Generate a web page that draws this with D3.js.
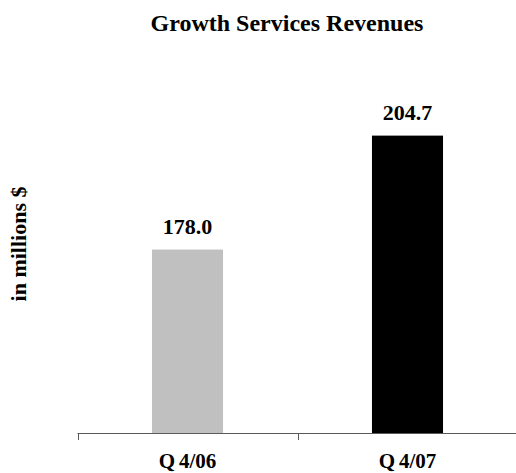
<!DOCTYPE html>
<html>
<head>
<meta charset="utf-8">
<script src="https://cdn.jsdelivr.net/npm/d3@7/dist/d3.min.js"></script>
<style>
  html, body { margin: 0; padding: 0; background: #fff; }
  svg { display: block; }
  text { font-family: "Liberation Serif", "Times New Roman", serif; font-weight: bold; fill: #000; }
</style>
</head>
<body>
<svg id="chart" width="516" height="473"></svg>
<script>
// Quarterly revenue data (millions of dollars)
const categories = ["Q4/06", "Q4/07"];
const revenues = [178.0, 204.7];
const barColors = ["#C0C0C0", "#000000"];
const valueLabels = ["178.0", "204.7"];

const chartTitle = "Growth Services Revenues";
const yAxisTitle = "in millions $";

const svg = d3.select("#chart");

const plot = { left: 77.5, right: 517.5, top: 49, bottom: 433 };

const x = d3.scaleBand()
  .domain(categories)
  .range([plot.left, plot.right])
  .paddingInner(0.677)
  .paddingOuter(0.3385);

const y = d3.scaleLinear()
  .domain([135, 225])
  .range([plot.bottom, plot.top]);

// Title
svg.append("text")
  .attr("x", 287)
  .attr("y", 31)
  .attr("text-anchor", "middle")
  .style("font-size", "24px")
  .text(chartTitle);

// Rotated value-axis title
svg.append("text")
  .attr("transform", "translate(26,244) rotate(-90)")
  .attr("text-anchor", "middle")
  .style("font-size", "22px")
  .text(yAxisTitle);

// Bars
svg.selectAll("rect.bar")
  .data(categories)
  .join("rect")
  .attr("class", "bar")
  .attr("x", d => x(d))
  .attr("width", x.bandwidth())
  .attr("y", (d, i) => y(revenues[i]))
  .attr("height", (d, i) => plot.bottom - y(revenues[i]))
  .attr("fill", (d, i) => barColors[i]);

// Value labels above bars
svg.selectAll("text.value")
  .data(categories)
  .join("text")
  .attr("class", "value")
  .attr("x", d => x(d) + x.bandwidth() / 2)
  .attr("y", (d, i) => y(revenues[i]) - 16)
  .attr("text-anchor", "middle")
  .style("font-size", "22px")
  .text((d, i) => valueLabels[i]);

// Category axis: baseline with ticks at the left edge of each category band
const step = x.step();
const tickX = d => Math.round(x(d) - step * x.paddingInner() / 2) + 0.5;
const axis = svg.append("g");
axis.append("line")
  .attr("x1", plot.left).attr("x2", plot.right)
  .attr("y1", plot.bottom + 0.5).attr("y2", plot.bottom + 0.5)
  .attr("stroke", "#5a5a5a").attr("stroke-width", 1);

axis.selectAll("line.tick")
  .data(categories)
  .join("line")
  .attr("class", "tick")
  .attr("x1", tickX)
  .attr("x2", tickX)
  .attr("y1", plot.bottom)
  .attr("y2", plot.bottom + 7)
  .attr("stroke", "#5a5a5a").attr("stroke-width", 1);

// Category labels, with the small gap after the "Q"
const catLabels = axis.selectAll("text.cat")
  .data(categories)
  .join("text")
  .attr("class", "cat")
  .attr("x", d => x(d) + x.bandwidth() / 2)
  .attr("y", 468)
  .attr("text-anchor", "middle")
  .style("font-size", "21px");
catLabels.append("tspan").text(d => d.slice(0, 1));
catLabels.append("tspan").attr("dx", 4).text(d => d.slice(1));
</script>
</body>
</html>
